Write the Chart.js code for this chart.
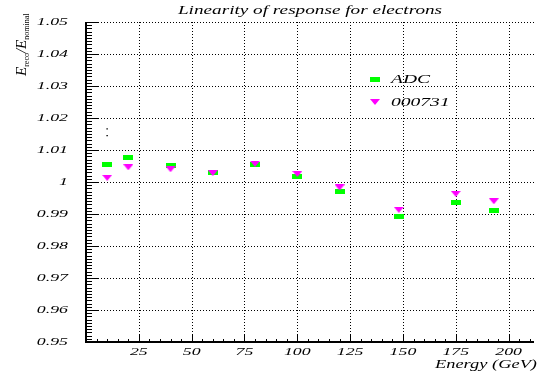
<!DOCTYPE html>
<html>
<head>
<meta charset="utf-8">
<script src="https://cdn.jsdelivr.net/npm/chart.js@4/dist/chart.umd.min.js"></script>
<style>
  body { margin: 0; background: #fff; }
  canvas { display: block; }
</style>
</head>
<body>
<canvas id="grafico" width="539" height="371"></canvas>
<script>
// energias (GeV) e valores
const energias = [10, 20, 40, 60, 80, 100, 120, 148, 175, 193];
const valoresADC = [1.0056, 1.0076, 1.0051, 1.0030, 1.0055, 1.0016, 0.9971, 0.9892, 0.9937, 0.9912];
const valores000731 = [1.0013, 1.0046, 1.0040, 1.0028, 1.0057, 1.0025, 0.9983, 0.9913, 0.9963, 0.9940];
const pontosErro = [1.0166, 1.0145];
const ticksY = [0.95, 0.96, 0.97, 0.98, 0.99, 1, 1.01, 1.02, 1.03, 1.04, 1.05];
const ticksX = [25, 50, 75, 100, 125, 150, 175, 200];
const titulo = 'Linearity of response for electrons';
const tituloX = 'Energy (GeV)';

// marcadores
function quadradoVerde() {
  const c = document.createElement('canvas');
  c.width = 10; c.height = 5;
  const g = c.getContext('2d');
  g.fillStyle = '#00ff00';
  g.fillRect(0, 0, 10, 5);
  return c;
}
function trianguloMagenta() {
  const c = document.createElement('canvas');
  c.width = 10; c.height = 6;
  const g = c.getContext('2d');
  g.fillStyle = '#ff00ff';
  g.beginPath();
  g.moveTo(0, 0); g.lineTo(10, 0); g.lineTo(5, 6); g.closePath();
  g.fill();
  return c;
}
const marcaADC = quadradoVerde();
const marca000731 = trianguloMagenta();

function texto(ctx, s, x, y, size, sx, align) {
  ctx.save();
  ctx.translate(x, y);
  ctx.scale(sx, 1);
  ctx.font = `italic ${size}px "Liberation Serif"`;
  ctx.textAlign = align;
  ctx.textBaseline = 'middle';
  ctx.fillStyle = '#000';
  ctx.fillText(s, 0, 0);
  ctx.restore();
}

const molduraPlugin = {
  id: 'moldura',
  beforeDatasetsDraw(chart) {
    const { ctx, chartArea: a, scales: { x, y } } = chart;
    ctx.save();
    ctx.strokeStyle = '#000';
    ctx.lineWidth = 1;
    ctx.setLineDash([1, 2]);
    // grade pontilhada
    ticksX.forEach(v => {
      const px = Math.round(x.getPixelForValue(v)) + 0.5;
      ctx.beginPath(); ctx.moveTo(px, a.top); ctx.lineTo(px, a.bottom); ctx.stroke();
    });
    ticksY.slice(1).forEach(v => {
      const py = Math.round(y.getPixelForValue(v)) + 0.5;
      ctx.beginPath(); ctx.moveTo(a.left, py); ctx.lineTo(a.right, py); ctx.stroke();
    });
    ctx.setLineDash([]);
    // ticks menores
    for (let i = 0; i <= 100; i++) {
      const v = 0.95 + i * 0.001;
      const py = Math.round(y.getPixelForValue(v)) + 0.5;
      const len = i % 10 === 0 ? 12 : 6;
      ctx.beginPath(); ctx.moveTo(a.left, py); ctx.lineTo(a.left + len, py); ctx.stroke();
    }
    for (let v = 5; v <= 210; v += 5) {
      const px = Math.round(x.getPixelForValue(v)) + 0.5;
      const len = v % 25 === 0 ? 7 : 3;
      ctx.beginPath(); ctx.moveTo(px, a.bottom); ctx.lineTo(px, a.bottom - len); ctx.stroke();
    }
    // eixos
    ctx.lineWidth = 2;
    ctx.beginPath();
    ctx.moveTo(a.left, a.top); ctx.lineTo(a.left, a.bottom); ctx.lineTo(a.right, a.bottom);
    ctx.stroke();
    ctx.restore();
  },
  afterDraw(chart) {
    const { ctx, chartArea: a, scales: { x, y } } = chart;
    ticksY.forEach(v => {
      const s = v === 1 ? '1' : v.toFixed(2);
      texto(ctx, s, 68, y.getPixelForValue(v), 10.5, 1.7, 'right');
    });
    ticksX.forEach(v => {
      texto(ctx, String(v), x.getPixelForValue(v), 352, 10.5, 1.7, 'center');
    });
    texto(ctx, titulo, (a.left + a.right) / 2, 11, 12, 1.6, 'center');
    texto(ctx, tituloX, 537, 365, 11.5, 1.6, 'right');

    // legenda
    ctx.drawImage(marcaADC, 370, 77);
    texto(ctx, 'ADC', 391, 80, 11.5, 1.7, 'left');
    ctx.drawImage(marca000731, 370, 99);
    texto(ctx, '000731', 391, 103, 11.5, 1.7, 'left');

    // titulo do eixo Y: E_reco / E_nominal
    ctx.save();
    ctx.translate(26, 76);
    ctx.rotate(-Math.PI / 2);
    ctx.fillStyle = '#000';
    ctx.textBaseline = 'alphabetic';
    ctx.textAlign = 'left';
    let px = 0;
    const partes = [
      ['E', 'italic 15px "Liberation Serif"', 0],
      ['reco', '8px "Liberation Serif"', 3],
      ['/E', 'italic 15px "Liberation Serif"', 0],
      ['nominal', '8px "Liberation Serif"', 3]
    ];
    partes.forEach(([s, f, dy]) => {
      ctx.font = f;
      ctx.fillText(s, px, dy);
      px += ctx.measureText(s).width;
    });
    ctx.restore();
  }
};

const elementoGrafico = document.getElementById('grafico');
new Chart(elementoGrafico, {
  type: 'scatter',
  data: {
    datasets: [
      {
        label: 'ADC',
        data: energias.map((e, i) => ({ x: e, y: valoresADC[i] })),
        pointStyle: marcaADC,
        order: 2
      },
      {
        label: '000731',
        data: energias.map((e, i) => ({ x: e, y: valores000731[i] })),
        pointStyle: marca000731,
        order: 1
      },
      {
        label: 'erro',
        data: pontosErro.map(v => ({ x: 10, y: v })),
        pointStyle: 'rect',
        pointRadius: 1,
        backgroundColor: '#000',
        borderColor: '#000',
        borderWidth: 0,
        order: 3
      }
    ]
  },
  options: {
    responsive: false,
    animation: false,
    layout: { padding: { top: 22, left: 0, right: 0, bottom: 0 } },
    plugins: { legend: { display: false }, tooltip: { enabled: false }, title: { display: false } },
    scales: {
      x: {
        type: 'linear', min: 0, max: 212,
        ticks: { display: false }, grid: { display: false }, border: { display: false },
        afterFit(s) { s.height = 29; }
      },
      y: {
        type: 'linear', min: 0.95, max: 1.05,
        ticks: { display: false }, grid: { display: false }, border: { display: false },
        afterFit(s) { s.width = 86; }
      }
    }
  },
  plugins: [molduraPlugin]
});
</script>
</body>
</html>
